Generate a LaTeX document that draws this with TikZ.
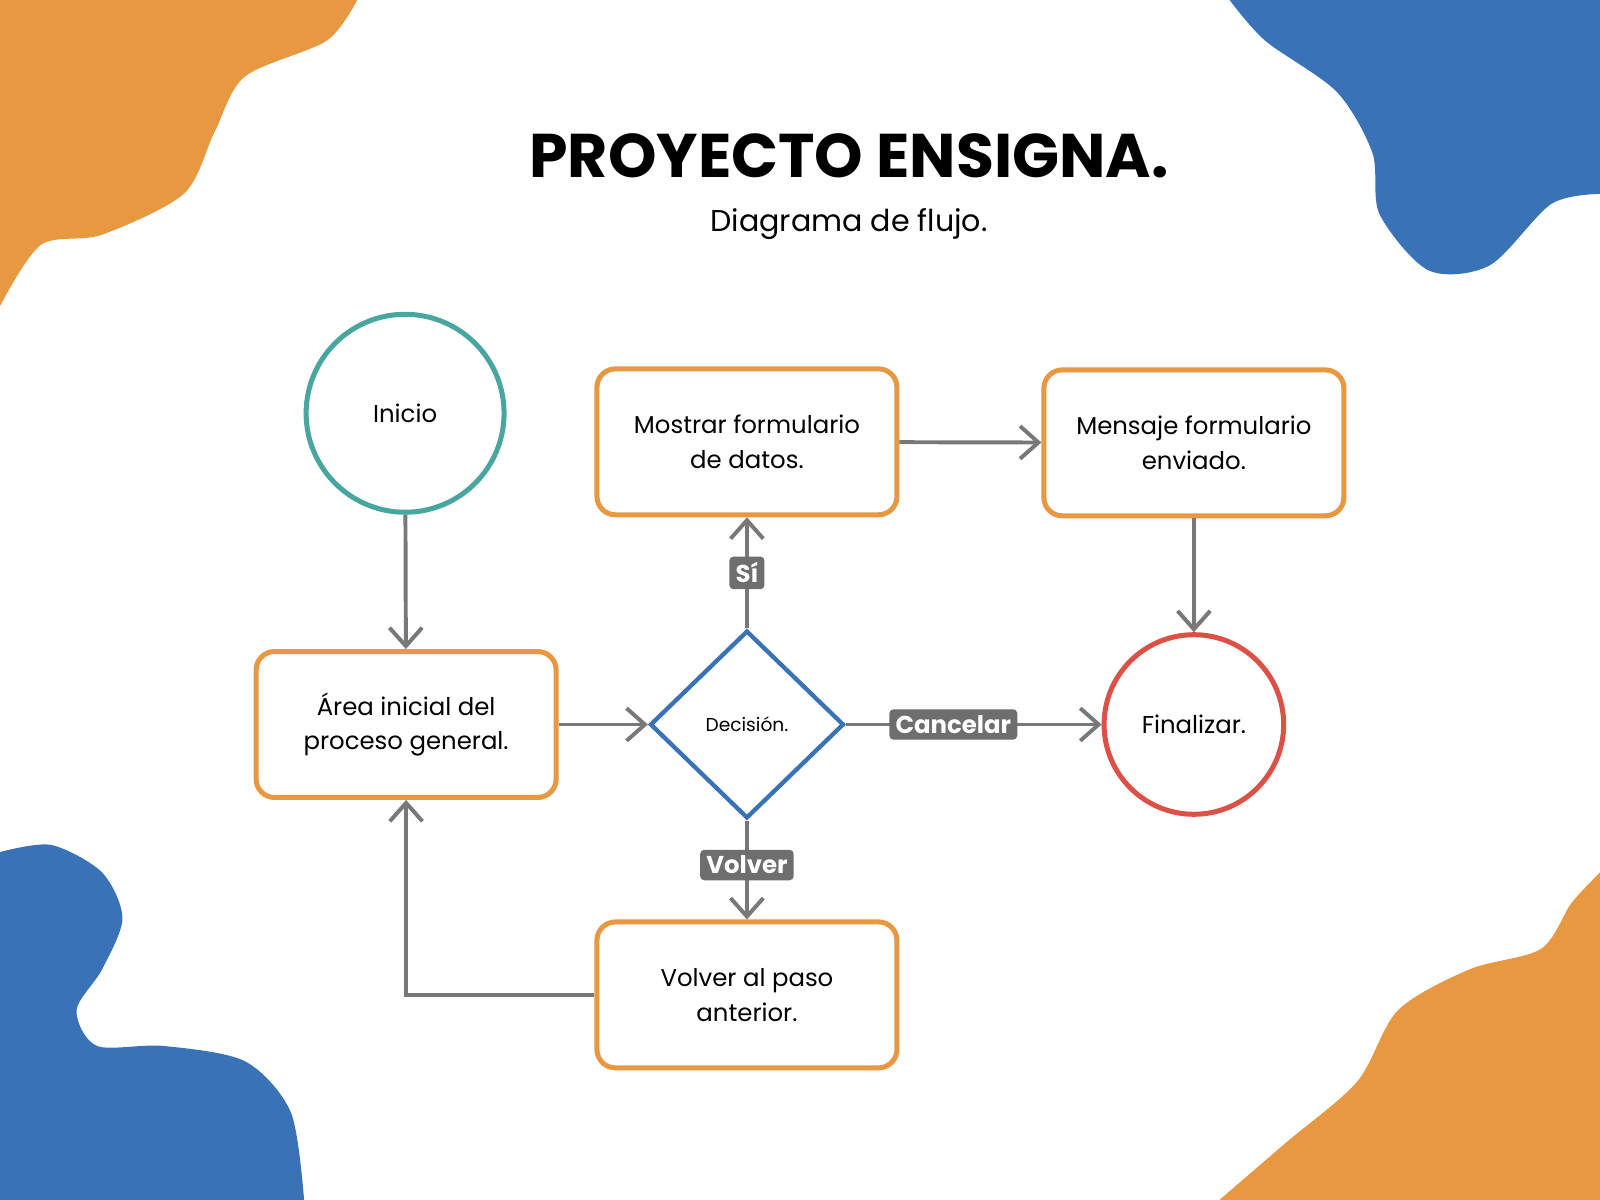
\documentclass[tikz,border=0pt]{standalone}
\usepackage{fontspec}
\setmainfont{Poppins}
\usetikzlibrary{shapes.geometric,arrows.meta}
\definecolor{org}{RGB}{232,152,64}
\definecolor{blu}{RGB}{58,114,184}
\definecolor{teal}{RGB}{72,166,160}
\definecolor{redc}{RGB}{220,80,70}
\definecolor{gr}{RGB}{120,120,120}
\definecolor{lab}{RGB}{110,110,110}
\begin{document}
\begin{tikzpicture}[x=0.05cm,y=-0.05cm,
 box/.style={draw=org,line width=7pt,rounded corners=0.9cm,minimum width=14.7cm,minimum height=7.15cm,align=center,font=\fontsize{34}{48}\selectfont},
 circ/.style={circle,line width=7pt,inner sep=0,font=\fontsize{34}{48}\selectfont},
 conn/.style={draw=gr,line width=5.5pt,-{Straight Barb[length=0.9cm,width=1.6cm,line width=5.5pt]}},
 lbl/.style={fill=lab,text=white,rounded corners=0.2cm,font=\bfseries\fontsize{34}{40}\selectfont,inner sep=0.3cm}]
\useasboundingbox (0,0) rectangle (1568,1176);
\fill[white] (0,0) rectangle (1568,1176);
\fill[org] plot[smooth] coordinates{(350,0) (320,40) (240,75) (210,130) (180,190) (100,230) (40,240) (0,300)} -- (0,0) -- cycle;
\fill[blu] plot[smooth] coordinates{(1205,0) (1240,40) (1310,90) (1345,150) (1352,210) (1400,265) (1460,260) (1520,200) (1568,190)} -- (1568,0) -- cycle;
\fill[blu] plot[smooth] coordinates{(0,835) (50,828) (100,855) (120,900) (100,950) (75,990) (95,1025) (160,1025) (240,1040) (285,1090) (298,1176)} -- (0,1176) -- cycle;
\fill[org] plot[smooth] coordinates{(1568,855) (1540,885) (1510,930) (1440,950) (1370,990) (1330,1060) (1260,1120) (1195,1176)} -- (1568,1176) -- cycle;
\node[font=\bfseries\fontsize{86}{90}\selectfont] (title) at (832,153) {PROYECTO ENSIGNA.};
\node[font=\fontsize{42}{48}\selectfont] (sub) at (832,220) {Diagrama de flujo.};
\node[circ,draw=teal,minimum size=9.7cm] (ini) at (397,405) {Inicio};
\node[box] (mos) at (732,433) {Mostrar formulario\\de datos.};
\node[box] (men) at (1170,434) {Mensaje formulario\\enviado.};
\node[box] (area) at (398,710) {Área inicial del\\proceso general.};
\node[diamond,draw=blu,line width=6pt,minimum width=9.5cm,minimum height=9.2cm,inner sep=0,font=\fontsize{26}{30}\selectfont] (dec) at (732,710) {Decisión.};
\node[circ,draw=redc,minimum size=8.8cm] (fin) at (1170,710) {Finalizar.};
\node[box] (vol) at (732,975) {Volver al paso\\anterior.};
\draw[conn] (ini) -- (area);
\draw[conn] (area) -- (dec);
\draw[conn] (dec) -- (mos) node[lbl,pos=0.5] {Sí};
\draw[conn] (mos) -- (men);
\draw[conn] (men) -- (fin);
\draw[conn] (dec) -- (fin) node[lbl,pos=0.42] {Cancelar};
\draw[conn] (dec) -- (vol) node[lbl,pos=0.45] {Volver};
\draw[conn] (vol.west) -| (area.south);
\end{tikzpicture}
\end{document}
